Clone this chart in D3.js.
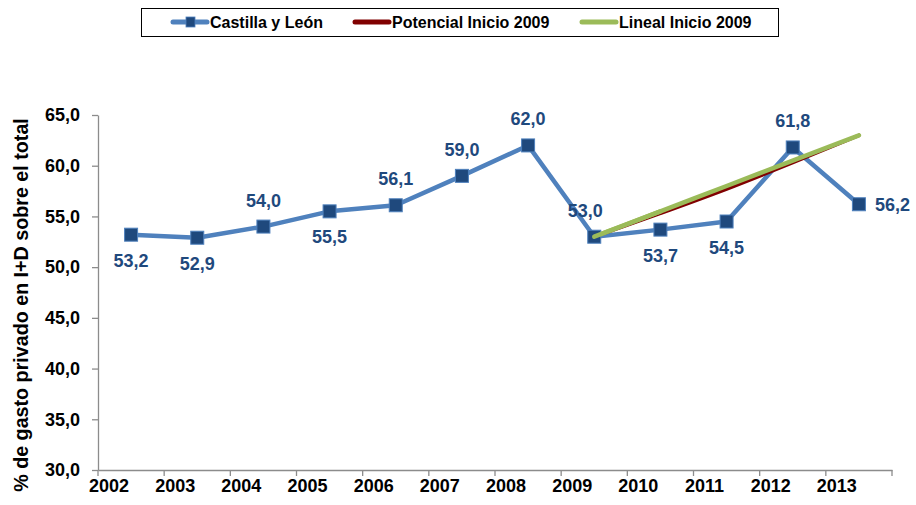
<!DOCTYPE html>
<html>
<head>
<meta charset="utf-8">
<script src="https://cdn.jsdelivr.net/npm/d3@7"></script>
<style>
  body { margin: 0; background: #fff; }
  svg { font-family: "Liberation Sans", Arial, sans-serif; font-weight: bold; }
</style>
</head>
<body>
<div id="chart"></div>
<script>
// data
var years = ["2002", "2003", "2004", "2005", "2006", "2007", "2008", "2009", "2010", "2011", "2012", "2013"];
var values = [53.2, 52.9, 54.0, 55.5, 56.1, 59.0, 62.0, 53.0, 53.7, 54.5, 61.8, 56.2];
// label placement per point: a = above, b = below, r = right, l = above-left
var labelPos = ["b", "b", "a", "b", "a", "a", "a", "l", "b", "b", "a", "r"];

var trendYears = ["2009", "2010", "2011", "2012", "2013"];
var potencial = [53.0, 55.3, 57.7, 60.3, 63.0];
var lineal = [53.0, 55.5, 58.0, 60.5, 63.0];

var yTicks = [30, 35, 40, 45, 50, 55, 60, 65];

var svgWidth = 916, svgHeight = 505;
var margin = { top: 115, bottom: 35, right: 24, left: 98 };
var width = svgWidth - margin.left - margin.right;
var height = svgHeight - margin.top - margin.bottom;

var svg = d3.select("#chart")
    .append("svg")
    .attr("width", svgWidth)
    .attr("height", svgHeight);

var chartGroup = svg.append("g")
    .attr("transform", `translate(${margin.left}, ${margin.top})`);

var xScale = d3.scaleBand()
    .domain(years)
    .range([0, width]);

var yScale = d3.scaleLinear()
    .domain([30, 65])
    .range([height, 0]);

var fmt = d => d3.format(".1f")(d).replace(".", ",");
var cx = d => xScale(d) + xScale.bandwidth() / 2;

// y axis
var yAxis = d3.axisLeft(yScale)
    .tickValues(yTicks)
    .tickFormat(fmt)
    .tickSize(6)
    .tickSizeOuter(0);

var yG = chartGroup.append("g").call(yAxis);
yG.selectAll("text").attr("font-size", "18px").attr("fill", "#000").attr("x", -18);

// x axis, ticks on band edges, labels shifted left like the original
var xAxis = d3.axisBottom(xScale).tickSize(0).tickSizeOuter(0);
var xG = chartGroup.append("g")
    .attr("transform", `translate(0, ${height})`)
    .call(xAxis);
xG.selectAll("text")
    .attr("font-size", "18px")
    .attr("fill", "#000")
    .attr("dy", "1.05em")
    .attr("dx", -(xScale.bandwidth() / 2 - 11));
xG.selectAll(".edge")
    .data(years.concat(["end"]))
    .enter()
    .append("line")
    .attr("x1", (d, i) => i * xScale.bandwidth())
    .attr("x2", (d, i) => i * xScale.bandwidth())
    .attr("y1", 0)
    .attr("y2", 6);

chartGroup.selectAll(".domain, line").attr("stroke", "#8c8c8c").attr("stroke-width", 1.3);

// main series
var line = d3.line()
    .x((d, i) => cx(years[i]))
    .y(d => yScale(d));

chartGroup.append("path")
    .datum(values)
    .attr("d", line)
    .attr("fill", "none")
    .attr("stroke", "#4F81BD")
    .attr("stroke-width", 4.5)
    .attr("stroke-linejoin", "round");

// trend lines
var trendLine = d3.line()
    .curve(d3.curveMonotoneX)
    .x((d, i) => cx(trendYears[i]))
    .y(d => yScale(d));

chartGroup.append("path")
    .datum(potencial)
    .attr("d", trendLine)
    .attr("fill", "none")
    .attr("stroke", "#800000")
    .attr("stroke-width", 3.5)
    .attr("stroke-linecap", "round");

chartGroup.append("path")
    .datum(lineal)
    .attr("d", trendLine)
    .attr("fill", "none")
    .attr("stroke", "#9BBB59")
    .attr("stroke-width", 4.5)
    .attr("stroke-linecap", "round");

// markers
chartGroup.selectAll(".marker")
    .data(values)
    .enter()
    .append("rect")
    .attr("x", (d, i) => cx(years[i]) - 6.5)
    .attr("y", d => yScale(d) - 6.5)
    .attr("width", 13)
    .attr("height", 13)
    .attr("fill", "#1F497D")
    .attr("stroke", "#4F81BD")
    .attr("stroke-width", 1);

// re-draw trend start over the 2009 marker as in the original
chartGroup.append("path")
    .datum(lineal.slice(0, 2))
    .attr("d", trendLine)
    .attr("fill", "none")
    .attr("stroke", "#9BBB59")
    .attr("stroke-width", 4.5)
    .attr("stroke-linecap", "round");

// data labels
chartGroup.selectAll(".lbl")
    .data(values)
    .enter()
    .append("text")
    .attr("font-size", "18px")
    .attr("fill", "#1F497D")
    .attr("text-anchor", (d, i) => labelPos[i] == "r" ? "start" : "middle")
    .attr("x", (d, i) => {
        var p = labelPos[i];
        if (p == "r") return cx(years[i]) + 16;
        if (p == "l") return cx(years[i]) - 9;
        return cx(years[i]);
    })
    .attr("y", (d, i) => {
        var p = labelPos[i];
        if (p == "b") return yScale(d) + 32;
        if (p == "r") return yScale(d) + 7;
        return yScale(d) - 20;
    })
    .text(fmt);

// y title
svg.append("g")
    .attr("transform", `translate(28, ${305})`)
    .append("text")
    .attr("text-anchor", "middle")
    .attr("transform", "rotate(-90)")
    .attr("font-size", "19.7px")
    .text("% de gasto privado en I+D sobre el total");

// legend
var legend = svg.append("g");
legend.append("rect")
    .attr("x", 141.5).attr("y", 8.5)
    .attr("width", 637).attr("height", 28)
    .attr("fill", "#fff")
    .attr("stroke", "#000")
    .attr("stroke-width", 1);

var legendItems = [
    { name: "Castilla y León", x: 173, color: "#4F81BD", marker: true },
    { name: "Potencial Inicio 2009", x: 355, color: "#800000" },
    { name: "Lineal Inicio 2009", x: 582, color: "#9BBB59" }
];
legendItems.forEach(function(d) {
    legend.append("line")
        .attr("x1", d.x).attr("x2", d.x + 34)
        .attr("y1", 22).attr("y2", 22)
        .attr("stroke", d.color)
        .attr("stroke-width", 5)
        .attr("stroke-linecap", "round");
    if (d.marker) {
        legend.append("rect")
            .attr("x", d.x + 13).attr("y", 17)
            .attr("width", 9).attr("height", 10)
            .attr("fill", "#1F497D")
            .attr("stroke", "#4F81BD")
            .attr("stroke-width", 0.8);
    }
    legend.append("text")
        .attr("x", d.x + 37).attr("y", 27.5)
        .attr("font-size", "16px")
        .text(d.name);
});
</script>
</body>
</html>
